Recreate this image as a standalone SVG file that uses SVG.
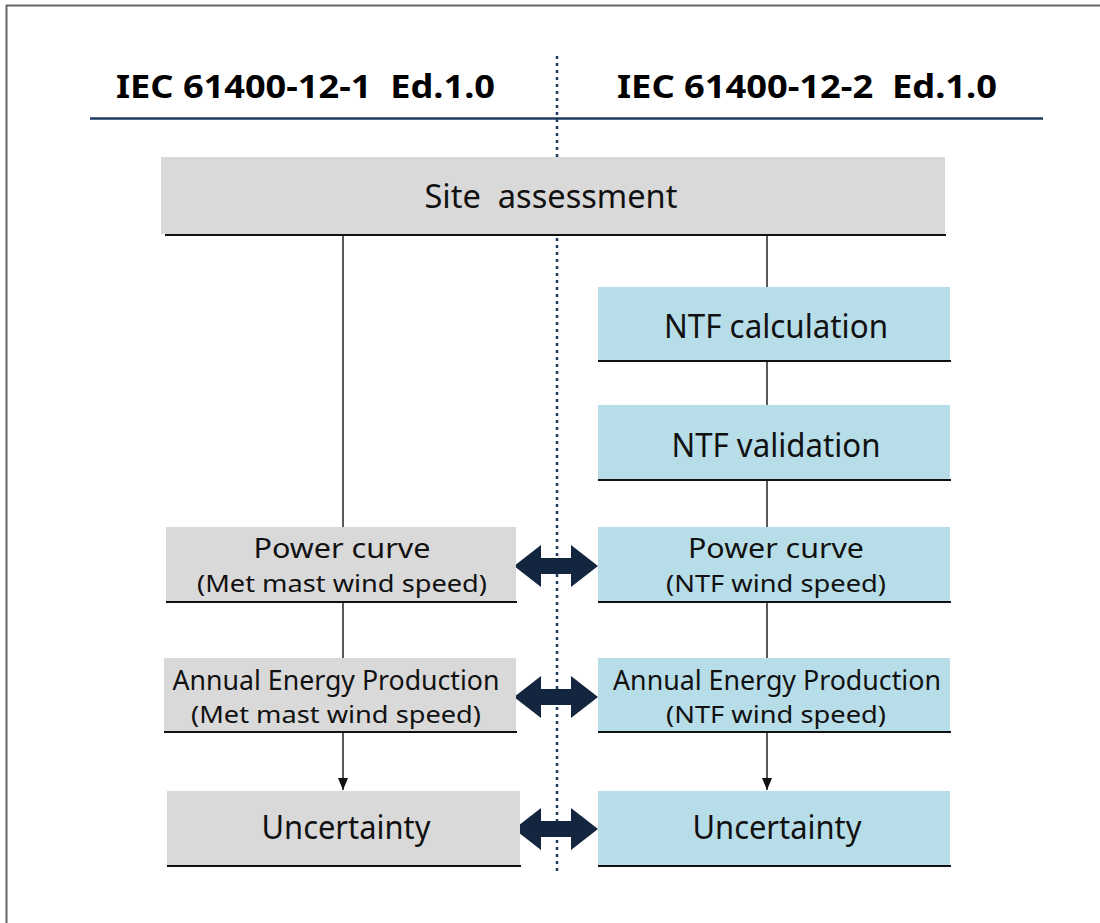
<svg xmlns="http://www.w3.org/2000/svg" width="1100" height="923" viewBox="0 0 1100 923">
<defs>
<style>
.txt{font-family:"Noto Sans","Open Sans","Liberation Sans",sans-serif;fill:#111;text-anchor:middle}
.hdr{font-family:"Noto Sans","Liberation Sans",sans-serif;font-weight:bold;font-size:32px;fill:#000}
.big{font-size:32px}
.mid{font-size:28px}
.small{font-size:24px}
.gray{fill:#d9d9d9}
.blue{fill:#b7dde8}
.base{stroke:#111;stroke-width:2}
.conn{stroke:#222;stroke-width:1.5;fill:none}
.dbl{fill:#14263f}
</style>
<marker id="ah" viewBox="0 0 12 10" refX="12" refY="5" markerWidth="12" markerHeight="10" markerUnits="userSpaceOnUse" orient="auto">
<path d="M0,0 L12,5 L0,10 Z" fill="#111"/>
</marker>
<path id="dblarrow" d="M-42,0 L-15,-21 L-15,-8 L15,-8 L15,-21 L42,0 L15,21 L15,8 L-15,8 L-15,21 Z"/>
</defs>
<rect width="1100" height="923" fill="#fff"/>
<g id="frame">
<path d="M6.5,923 L6.5,5.5 L1100,5.5" stroke="#666" stroke-width="2" fill="none"/>
</g>
<g id="headers">
<text class="hdr" x="116" y="98" textLength="379" lengthAdjust="spacingAndGlyphs" xml:space="preserve">IEC 61400-12-1  Ed.1.0</text>
<text class="hdr" x="617" y="98" textLength="380" lengthAdjust="spacingAndGlyphs" xml:space="preserve">IEC 61400-12-2  Ed.1.0</text>
<line x1="90" y1="118.5" x2="1043" y2="118.5" stroke="#1f3a5f" stroke-width="2.5"/>
<line x1="557" y1="56" x2="557" y2="872" stroke="#1f3a5f" stroke-width="2.5" stroke-dasharray="3,4"/>
</g>
<g id="connectors">
<line class="conn" x1="343" y1="235" x2="343" y2="528"/>
<line class="conn" x1="767" y1="235" x2="767" y2="288"/>
<line class="conn" x1="767" y1="361" x2="767" y2="405"/>
<line class="conn" x1="767" y1="480" x2="767" y2="528"/>
<line class="conn" x1="343" y1="602" x2="343" y2="658"/>
<line class="conn" x1="767" y1="602" x2="767" y2="658"/>
<line class="conn" x1="343" y1="732" x2="343" y2="790" marker-end="url(#ah)"/>
<line class="conn" x1="767" y1="732" x2="767" y2="790" marker-end="url(#ah)"/>
<use href="#dblarrow" class="dbl" x="556" y="566"/>
<use href="#dblarrow" class="dbl" x="556" y="697"/>
<use href="#dblarrow" class="dbl" x="556" y="829"/>
</g>
<g id="site">
<rect class="gray" x="161" y="157" width="784" height="77"/>
<line class="base" x1="165" y1="235" x2="946" y2="235"/>
<text class="txt big" x="551" y="208" textLength="253" lengthAdjust="spacingAndGlyphs" xml:space="preserve">Site  assessment</text>
</g>
<g id="ntfcalc">
<rect class="blue" x="598" y="287" width="352" height="73"/>
<line class="base" x1="598" y1="361" x2="951" y2="361"/>
<text class="txt big" x="776" y="338" textLength="224" lengthAdjust="spacingAndGlyphs">NTF calculation</text>
</g>
<g id="ntfval">
<rect class="blue" x="598" y="405" width="352" height="74"/>
<line class="base" x1="598" y1="480" x2="951" y2="480"/>
<text class="txt big" x="776" y="457" textLength="209" lengthAdjust="spacingAndGlyphs">NTF validation</text>
</g>
<g id="pc1">
<rect class="gray" x="166" y="527" width="350" height="74"/>
<line class="base" x1="166" y1="602" x2="517" y2="602"/>
<text class="txt mid" x="342" y="558" textLength="177" lengthAdjust="spacingAndGlyphs">Power curve</text>
<text class="txt small" x="342" y="592" textLength="290" lengthAdjust="spacingAndGlyphs">(Met mast wind speed)</text>
</g>
<g id="pc2">
<rect class="blue" x="598" y="527" width="352" height="74"/>
<line class="base" x1="598" y1="602" x2="951" y2="602"/>
<text class="txt mid" x="776" y="558" textLength="176" lengthAdjust="spacingAndGlyphs">Power curve</text>
<text class="txt small" x="776" y="592" textLength="220" lengthAdjust="spacingAndGlyphs">(NTF wind speed)</text>
</g>
<g id="aep1">
<rect class="gray" x="164" y="658" width="352" height="73"/>
<line class="base" x1="164" y1="732" x2="517" y2="732"/>
<text class="txt mid" x="336" y="690" textLength="327" lengthAdjust="spacingAndGlyphs">Annual Energy Production</text>
<text class="txt small" x="336" y="723" textLength="290" lengthAdjust="spacingAndGlyphs">(Met mast wind speed)</text>
</g>
<g id="aep2">
<rect class="blue" x="598" y="658" width="352" height="73"/>
<line class="base" x1="598" y1="732" x2="951" y2="732"/>
<text class="txt mid" x="777" y="690" textLength="328" lengthAdjust="spacingAndGlyphs">Annual Energy Production</text>
<text class="txt small" x="776" y="723" textLength="220" lengthAdjust="spacingAndGlyphs">(NTF wind speed)</text>
</g>
<g id="unc1">
<rect class="gray" x="167" y="791" width="353" height="74"/>
<line class="base" x1="167" y1="866" x2="521" y2="866"/>
<text class="txt big" x="346" y="839" textLength="169" lengthAdjust="spacingAndGlyphs">Uncertainty</text>
</g>
<g id="unc2">
<rect class="blue" x="598" y="791" width="352" height="74"/>
<line class="base" x1="598" y1="866" x2="951" y2="866"/>
<text class="txt big" x="777" y="839" textLength="169" lengthAdjust="spacingAndGlyphs">Uncertainty</text>
</g>
</svg>
